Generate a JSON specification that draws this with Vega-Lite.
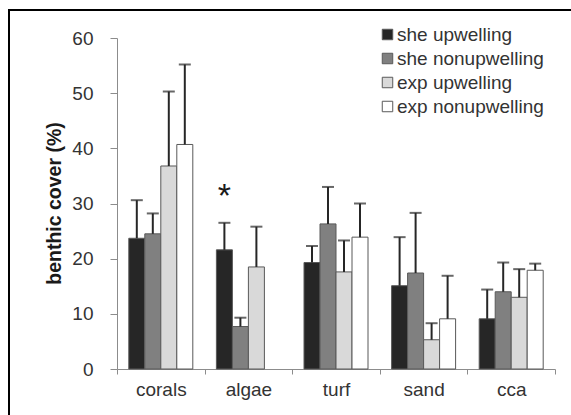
{
  "$schema": "https://vega.github.io/schema/vega-lite/v6.json",
  "width": 564,
  "height": 407,
  "autosize": {"type": "none"},
  "padding": {"left": 9, "top": 10, "right": -2, "bottom": -2},
  "background": "white",
  "config": {
    "view": {"stroke": "#000000", "strokeWidth": 2, "strokeDash": [564, 971, 407]},
    "font": "Liberation Sans"
  },
  "data": {
    "values": [
      {"category": "corals", "series": "she upwelling", "mean": 23.7, "hi": 30.6},
      {"category": "corals", "series": "she nonupwelling", "mean": 24.5, "hi": 28.2},
      {"category": "corals", "series": "exp upwelling", "mean": 36.8, "hi": 50.3},
      {"category": "corals", "series": "exp nonupwelling", "mean": 40.7, "hi": 55.2},
      {"category": "algae", "series": "she upwelling", "mean": 21.6, "hi": 26.5, "sig": "*"},
      {"category": "algae", "series": "she nonupwelling", "mean": 7.7, "hi": 9.3},
      {"category": "algae", "series": "exp upwelling", "mean": 18.5, "hi": 25.8},
      {"category": "turf", "series": "she upwelling", "mean": 19.3, "hi": 22.3},
      {"category": "turf", "series": "she nonupwelling", "mean": 26.3, "hi": 33.0},
      {"category": "turf", "series": "exp upwelling", "mean": 17.6, "hi": 23.3},
      {"category": "turf", "series": "exp nonupwelling", "mean": 23.9, "hi": 30.0},
      {"category": "sand", "series": "she upwelling", "mean": 15.1, "hi": 23.9},
      {"category": "sand", "series": "she nonupwelling", "mean": 17.4, "hi": 28.3},
      {"category": "sand", "series": "exp upwelling", "mean": 5.3, "hi": 8.3},
      {"category": "sand", "series": "exp nonupwelling", "mean": 9.1, "hi": 16.9},
      {"category": "cca", "series": "she upwelling", "mean": 9.1, "hi": 14.4},
      {"category": "cca", "series": "she nonupwelling", "mean": 14.0, "hi": 19.3},
      {"category": "cca", "series": "exp upwelling", "mean": 13.0, "hi": 18.1},
      {"category": "cca", "series": "exp nonupwelling", "mean": 17.9, "hi": 19.1}
    ]
  },
  "encoding": {
    "x": {
      "field": "category",
      "type": "nominal",
      "scale": {"domain": ["corals", "algae", "turf", "sand", "cca"], "range": [108, 546], "paddingInner": 0, "paddingOuter": 0},
      "axis": {
        "orient": "bottom",
        "offset": -48,
        "title": null,
        "domain": true,
        "domainColor": "#8c8c8c",
        "domainWidth": 1,
        "tickBand": "extent",
        "tickSize": 5,
        "tickColor": "#8c8c8c",
        "labelAngle": 0,
        "labelFont": "Liberation Sans",
        "labelFontSize": 19,
        "labelColor": "#333333",
        "labelPadding": 6,
        "grid": false
      }
    },
    "xOffset": {
      "field": "series",
      "type": "nominal",
      "scale": {"domain": ["she upwelling", "she nonupwelling", "exp upwelling", "exp nonupwelling"], "paddingInner": 0, "paddingOuter": 0.7375}
    }
  },
  "layer": [
    {
      "mark": {"type": "bar", "stroke": "#595959", "strokeWidth": 1},
      "encoding": {
        "y": {
          "field": "mean",
          "type": "quantitative",
          "scale": {"domain": [0, 60], "range": [359, 28], "nice": false, "zero": true},
          "axis": {
            "orient": "left",
            "offset": -108,
            "values": [0, 10, 20, 30, 40, 50, 60],
            "domain": true,
            "domainColor": "#8c8c8c",
            "domainWidth": 1,
            "tickColor": "#8c8c8c",
            "tickSize": 7,
            "grid": false,
            "labelFont": "Liberation Sans",
            "labelFontSize": 19,
            "labelColor": "#333333",
            "labelPadding": 17,
            "title": "benthic cover (%)",
            "titleFont": "Liberation Sans",
            "titleFontSize": 19.5,
            "titleFontWeight": "bold",
            "titleColor": "#1a1a1a",
            "titlePadding": 7,
            "titleY": 193
          }
        },
        "color": {
          "field": "series",
          "type": "nominal",
          "scale": {"domain": ["she upwelling", "she nonupwelling", "exp upwelling", "exp nonupwelling"], "range": ["#262626", "#808080", "#d9d9d9", "#ffffff"]},
          "legend": {
            "title": null,
            "orient": "none",
            "legendX": 369,
            "legendY": 15,
            "symbolType": "square",
            "symbolSize": 110,
            "symbolStrokeColor": "#595959",
            "symbolStrokeWidth": 1,
            "symbolOpacity": 1,
            "labelFont": "Liberation Sans",
            "labelFontSize": 19,
            "labelColor": "#333333",
            "labelOffset": 0,
            "rowPadding": 4
          }
        }
      }
    },
    {
      "mark": {"type": "rule", "color": "#262626", "strokeWidth": 2},
      "encoding": {
        "y": {"field": "mean", "type": "quantitative"},
        "y2": {"field": "hi"}
      }
    },
    {
      "mark": {"type": "tick", "color": "#262626", "thickness": 2, "size": 12, "orient": "horizontal"},
      "encoding": {
        "y": {"field": "hi", "type": "quantitative"}
      }
    },
    {
      "transform": [{"filter": "datum.sig != null"}],
      "mark": {"type": "text", "fontSize": 34, "font": "Liberation Sans", "color": "#1a1a1a", "baseline": "alphabetic", "dy": -16},
      "encoding": {
        "y": {"field": "hi", "type": "quantitative"},
        "text": {"field": "sig"}
      }
    }
  ]
}
